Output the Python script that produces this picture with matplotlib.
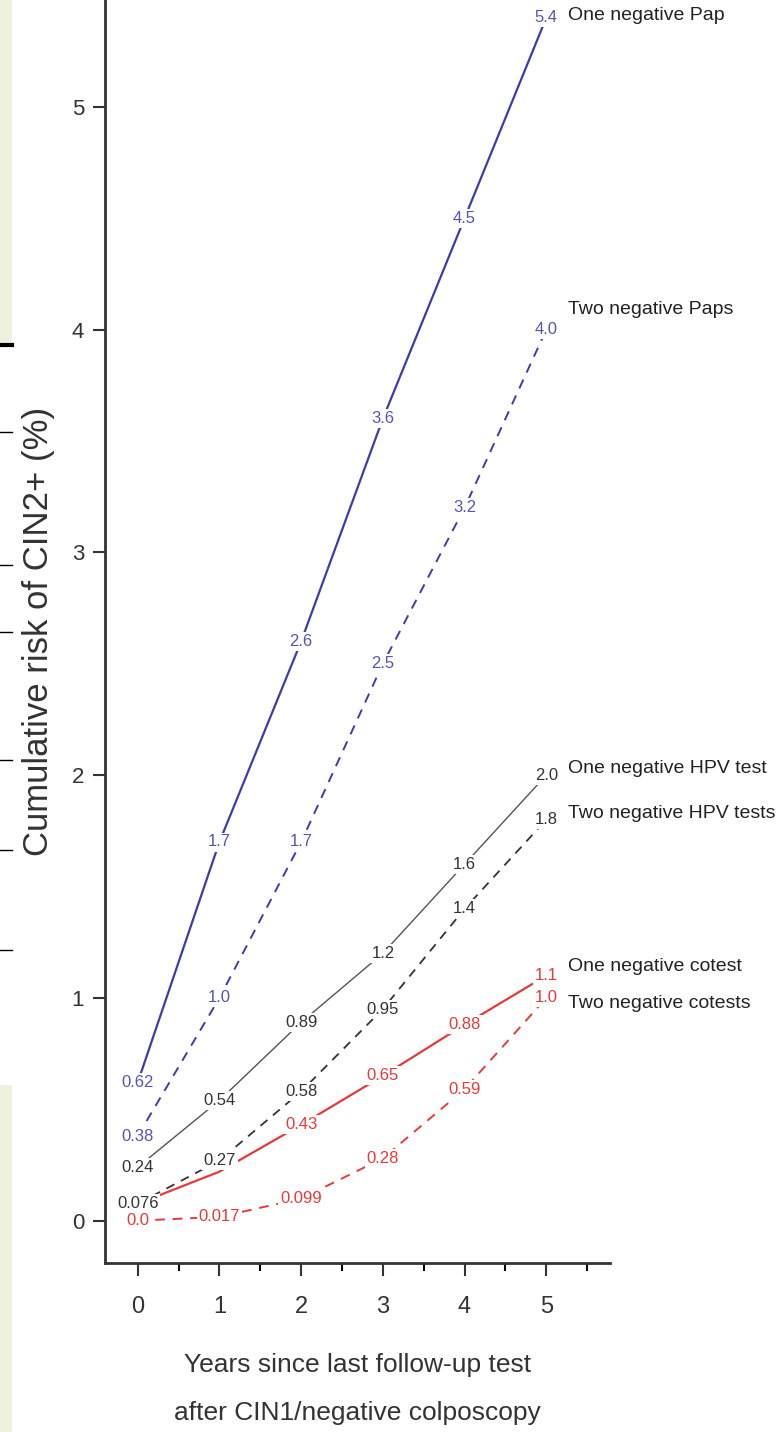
import matplotlib.pyplot as plt
from matplotlib.patches import Rectangle
from matplotlib.lines import Line2D

years = [0, 1, 2, 3, 4, 5]

pap_one = [0.62, 1.7, 2.6, 3.6, 4.5, 5.4]
pap_two = [0.38, 1.0, 1.7, 2.5, 3.2, 4.0]
hpv_one = [0.24, 0.54, 0.89, 1.2, 1.6, 2.0]
hpv_two = [0.076, 0.27, 0.58, 0.95, 1.4, 1.8]
cot_one = [0.076, 0.22, 0.43, 0.65, 0.88, 1.1]
cot_two = [0.0, 0.017, 0.099, 0.28, 0.59, 1.0]

pap_one_lbl = ['0.62', '1.7', '2.6', '3.6', '4.5', '5.4']
pap_two_lbl = ['0.38', '1.0', '1.7', '2.5', '3.2', '4.0']
hpv_one_lbl = ['0.24', '0.54', '0.89', '1.2', '1.6', '2.0']
hpv_two_lbl = ['0.076', '0.27', '0.58', '0.95', '1.4', '1.8']
cot_one_lbl = ['', '', '0.43', '0.65', '0.88', '1.1']
cot_two_lbl = ['0.0', '0.017', '0.099', '0.28', '0.59', '1.0']

names = ['One negative Pap', 'Two negative Paps', 'One negative HPV test',
         'Two negative HPV tests', 'One negative cotest', 'Two negative cotests']
name_y = [5.41, 4.09, 2.03, 1.83, 1.14, 0.975]

blue = '#3c3cae'
blue_txt = '#5555b5'
red = '#e8393a'
grey = '#555555'
dark = '#333333'

plt.rcParams['font.family'] = ['Liberation Sans', 'DejaVu Sans']

fig = plt.figure(figsize=(7.79, 14.32), dpi=100)

# slide remnants on the left edge
fig.patches.append(Rectangle((0, 0), 12 / 779, 1 - 1085 / 1432, transform=fig.transFigure,
                             facecolor='#eef0e0', edgecolor='none'))
fig.patches.append(Rectangle((0, 1 - 344 / 1432), 12 / 779, 344 / 1432, transform=fig.transFigure,
                             facecolor='#eef0e0', edgecolor='none'))
fig.lines.append(Line2D([0, 12 / 779], [1 - 345 / 1432] * 2, transform=fig.transFigure,
                        color='black', lw=3))
for yy in [432, 565, 632, 760, 850, 950]:
    fig.lines.append(Line2D([0, 12 / 779], [1 - yy / 1432] * 2, transform=fig.transFigure,
                            color='black', lw=1))

ax = fig.add_axes([105 / 779, 1 - 1263 / 1432, 505 / 779, 1263 / 1432])

series = [
    (pap_one, pap_one_lbl, blue, '-', blue_txt, 1.6),
    (pap_two, pap_two_lbl, blue, (0, (5, 4)), blue_txt, 1.4),
    (hpv_one, hpv_one_lbl, grey, '-', dark, 1.0),
    (hpv_two, hpv_two_lbl, dark, (0, (5, 4)), dark, 1.3),
    (cot_one, cot_one_lbl, red, '-', red, 1.6),
    (cot_two, cot_two_lbl, red, (0, (5, 4)), red, 1.4),
]

for vals, lbls, col, ls, tcol, lw in series:
    ax.plot(years, vals, color=col, linestyle=ls, linewidth=lw, zorder=2)
    for x, v, t in zip(years, vals, lbls):
        if t:
            ax.text(x, v, t, color=tcol, fontsize=12, ha='center', va='center', zorder=3,
                    bbox=dict(facecolor='white', edgecolor='none', pad=1.5))

for n, yv in zip(names, name_y):
    ax.text(5.27, yv, n, fontsize=14, color='#222222', ha='left', va='center')

ax.set_xlim(-0.40, 5.78)
ax.set_ylim(-0.19, 5.48)
ax.set_xticks(years)
ax.set_xticks([0.5, 1.5, 2.5, 3.5, 4.5, 5.5], minor=True)
ax.set_yticks([0, 1, 2, 3, 4, 5])
ax.tick_params(axis='x', which='major', length=9, width=1.5, labelsize=17, pad=15, colors='#333333')
ax.tick_params(axis='x', which='minor', length=6, width=1.5)
ax.tick_params(axis='y', length=9, width=1.5, labelsize=16, pad=6, colors='#333333')

for s in ['top', 'right']:
    ax.spines[s].set_visible(False)
for s in ['left', 'bottom']:
    ax.spines[s].set_linewidth(2)
    ax.spines[s].set_color('#333333')

ax.set_ylabel('Cumulative risk of CIN2+ (%)', fontsize=25, color='#333333', labelpad=12)
ax.set_xlabel('Years since last follow-up test\nafter CIN1/negative colposcopy',
              fontsize=19, color='#333333', labelpad=25, linespacing=2.25)

fig.savefig('out.png', dpi=100)
